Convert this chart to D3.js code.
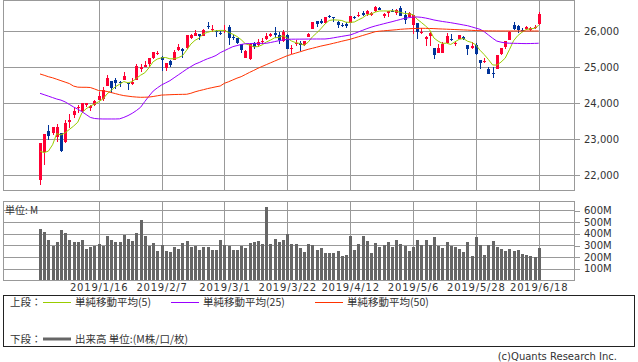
<!DOCTYPE html>
<html>
<head>
<meta charset="utf-8">
<script src="https://cdn.jsdelivr.net/npm/d3@7"></script>
<style>
  body { margin: 0; background: #fff; }
  svg { display: block; }
  text { font-family: "DejaVu Sans", sans-serif; fill: #333; }
  .jp { font-family: "Noto Sans CJK JP", sans-serif; }
</style>
</head>
<body>
<svg id="chart" width="638" height="362"></svg>
<script>
// trading days shown (one candle each)
var dates = [
  "2018/12/26","2018/12/27","2018/12/28","2018/12/31",
  "2019/1/2","2019/1/3","2019/1/4","2019/1/7","2019/1/8","2019/1/9","2019/1/10","2019/1/11",
  "2019/1/14","2019/1/15","2019/1/16","2019/1/17","2019/1/18","2019/1/22","2019/1/23","2019/1/24",
  "2019/1/25","2019/1/28","2019/1/29","2019/1/30","2019/1/31",
  "2019/2/1","2019/2/4","2019/2/5","2019/2/6","2019/2/7","2019/2/8","2019/2/11","2019/2/12",
  "2019/2/13","2019/2/14","2019/2/15","2019/2/19","2019/2/20","2019/2/21","2019/2/22","2019/2/25",
  "2019/2/26","2019/2/27","2019/2/28",
  "2019/3/1","2019/3/4","2019/3/5","2019/3/6","2019/3/7","2019/3/8","2019/3/11","2019/3/12",
  "2019/3/13","2019/3/14","2019/3/15","2019/3/18","2019/3/19","2019/3/20","2019/3/21","2019/3/22",
  "2019/3/25","2019/3/26","2019/3/27","2019/3/28","2019/3/29",
  "2019/4/1","2019/4/2","2019/4/3","2019/4/4","2019/4/5","2019/4/8","2019/4/9","2019/4/10",
  "2019/4/11","2019/4/12","2019/4/15","2019/4/16","2019/4/17","2019/4/18","2019/4/22","2019/4/23",
  "2019/4/24","2019/4/25","2019/4/26","2019/4/29","2019/4/30",
  "2019/5/1","2019/5/2","2019/5/3","2019/5/6","2019/5/7","2019/5/8","2019/5/9","2019/5/10",
  "2019/5/13","2019/5/14","2019/5/15","2019/5/16","2019/5/17","2019/5/20","2019/5/21","2019/5/22",
  "2019/5/23","2019/5/24","2019/5/28","2019/5/29","2019/5/30","2019/5/31",
  "2019/6/3","2019/6/4","2019/6/5","2019/6/6","2019/6/7","2019/6/10","2019/6/11","2019/6/12",
  "2019/6/13","2019/6/14","2019/6/17","2019/6/18"
];

var opens = [
  21857,22629,23213,23153,
  23058,23176,22894,23474,23680,23844,23788,23940,
  23850,23948,24100,24130,24490,24606,24650,24575,
  24634,24549,24526,24637,24949,
  24995,25062,25245,25371,25266,24970,25172,25191,
  25450,25490,25510,25800,25883,25905,25878,26126,
  26050,25987,25957,
  26019,26122,25830,25811,25636,25267,25240,25666,
  25611,25688,25760,25872,25938,25884,25701,25898,
  25490,25618,25675,25614,25835,
  26075,26275,26267,26221,26430,26381,26244,26165,
  26205,26230,26391,26433,26500,26469,26460,26532,
  26640,26400,26486,26561,26506,
  26640,26450,26405,26150,26228,25940,25770,25853,
  25531,25406,25410,25679,25776,25650,25770,25826,
  25614,25540,25600,25200,25154,24958,
  24823,24955,25385,25559,25765,26176,26151,26030,
  26050,26043,26080,26194
];

var highs = [
  22879,23139,23381,23333,
  23413,23176,23518,23687,23864,23952,24002,24006,
  23944,24090,24316,24443,24777,24606,24685,24602,
  24860,24558,24705,25076,25070,
  25174,25244,25418,25439,25314,25109,25189,25463,
  25626,25519,25883,25925,26018,25905,26052,26242,
  26154,26017,25999,
  26156,26156,25888,25811,25637,25469,25653,25694,
  25789,25805,25941,25946,26109,25977,26024,25914,
  25623,25763,25720,25724,25949,
  26258,26275,26333,26402,26440,26401,26289,26213,
  26236,26425,26422,26526,26565,26570,26536,26696,
  26658,26500,26565,26617,26608,
  26696,26550,26536,26453,26228,26080,25858,25969,
  25531,25642,25681,25942,25920,25731,25892,25851,
  25614,25695,25662,25200,25249,25001,
  25006,25339,25539,25726,26003,26236,26177,26072,
  26145,26109,26153,26538
];

var lows = [
  21713,22267,22981,23118,
  22928,22638,22894,23301,23581,23731,23713,23877,
  23783,23903,24084,24067,24490,24265,24393,24453,
  24634,24366,24507,24629,24868,
  24987,25008,25219,25325,24883,24884,25007,25191,
  25440,25250,25510,25779,25869,25748,25866,26062,
  25985,25846,25900,
  25939,25611,25760,25639,25390,25252,25208,25496,
  25554,25638,25739,25825,25818,25626,25683,25487,
  25356,25577,25450,25575,25835,
  26075,26106,26182,26192,26373,26246,26082,26110,
  26089,26230,26323,26394,26420,26420,26430,26532,
  26580,26369,26390,26543,26441,
  26430,26204,26405,25904,25780,25920,25583,25577,
  25223,25406,25406,25679,25730,25596,25770,25752,
  25323,25490,25340,24939,25112,24811,
  24681,24955,25322,25499,25746,26024,25957,25963,
  26033,25990,26061,26160
];

var closes = [
  22878,23139,23062,23327,
  23346,22686,23433,23531,23787,23879,24002,23996,
  23910,24066,24207,24370,24706,24404,24576,24553,
  24737,24528,24580,25015,25000,
  25064,25239,25412,25390,25170,25106,25053,25426,
  25543,25439,25883,25891,25954,25851,26032,26092,
  26058,25985,25916,
  26026,25820,25807,25673,25473,25450,25651,25555,
  25703,25710,25849,25914,25887,25746,25963,25502,
  25517,25658,25626,25717,25929,
  26258,26179,26218,26385,26425,26341,26151,26157,
  26143,26412,26385,26453,26450,26560,26511,26656,
  26597,26462,26543,26554,26593,
  26430,26308,26505,26438,25965,25967,25828,25942,
  25325,25532,25648,25863,25764,25680,25877,25777,
  25490,25586,25348,25126,25170,24815,
  24820,25332,25540,25721,25984,26063,26049,26005,
  26107,26090,26113,26466
];

// last four closes before the first candle (needed for the 5-day average)
var priorCloses = [23323, 22859, 22445, 21792];

// 25-day and 50-day simple moving averages
var ma25 = [
  24269,24230,24190,24150,24110,24080,24030,23960,23890,23830,
  23760,23680,23600,23570,23560,23556,23556,23556,23556,23560,
  23600,23650,23713,23790,23880,24040,24190,24330,24420,24500,
  24560,24620,24700,24780,24860,24940,25010,25080,25125,25180,
  25230,25270,25320,25397,25453,25510,25564,25595,25625,25647,
  25652,25655,25656,25657,25658,25680,25705,25730,25750,25769,
  25772,25773,25774,25775,25776,25777,25778,25778,25778,25790,
  25810,25830,25850,25870,25889,25930,25975,26020,26065,26105,
  26140,26170,26200,26230,26258,26290,26320,26353,26370,26385,
  26390,26380,26360,26335,26306,26285,26265,26248,26231,26210,
  26190,26168,26147,26115,26080,26047,25980,25890,25800,25720,
  25690,25670,25660,25658,25655,25652,25650,25652,25655,25660
];

var ma50 = [
  24806,24770,24730,24700,24660,24620,24580,24540,24470,24440,
  24436,24436,24430,24390,24345,24340,24320,24290,24260,24230,
  24205,24190,24175,24165,24158,24160,24165,24180,24200,24220,
  24225,24230,24235,24238,24240,24242,24270,24310,24342,24370,
  24400,24425,24450,24472,24547,24590,24640,24690,24731,24790,
  24850,24905,24963,25015,25065,25115,25165,25215,25265,25314,
  25350,25385,25420,25457,25492,25520,25550,25580,25605,25630,
  25658,25685,25715,25742,25769,25805,25840,25875,25910,25945,
  25981,25995,26005,26015,26025,26035,26047,26055,26062,26068,
  26072,26075,26073,26070,26066,26060,26055,26050,26045,26040,
  26035,26030,26025,26018,26012,26008,26005,26003,26002,26001,
  26000,26000,26000,26000,26000,26000,26000,26000,26000,26000
];

// volume in millions of shares
var volumes = [
  440,414,346,297,329,431,403,346,329,329,
  346,269,283,297,311,297,380,346,329,329,
  389,357,337,406,517,380,297,320,251,303,
  251,240,286,269,320,337,289,297,260,286,
  286,260,260,346,303,297,260,260,297,280,
  320,329,337,311,629,311,354,329,346,397,
  311,311,277,243,311,303,260,280,237,237,
  237,251,209,217,383,260,311,380,337,237,
  317,289,303,329,289,346,311,297,251,289,
  346,303,346,303,371,297,280,329,297,289,
  269,246,331,209,374,303,217,303,337,289,
  269,251,269,251,263,229,217,209,203,280
];

var tickDates = ["2019/1/16","2019/2/7","2019/3/1","2019/3/22","2019/4/12","2019/5/6","2019/5/28","2019/6/18"];
var priceTicks = [22000, 23000, 24000, 25000, 26000];
var volumeTicks = [100, 200, 300, 400, 500, 600];
var maLabels = ["単純移動平均(5)", "単純移動平均(25)", "単純移動平均(50)"];

// ---- 5-day average from the closes
var allCloses = priorCloses.concat(closes);
var ma5 = closes.map(function(c, i) { return d3.mean(allCloses.slice(i, i + 5)); });

var svg = d3.select("#chart");

var left = 3, right = 574;
var x = d3.scalePoint().domain(dates).range([40, 538.7]);
var y = d3.scaleLinear().domain([21583, 26861]).range([190, 0]);
var yVol = d3.scaleLinear().domain([0, 680]).range([280.3, 201]);

function px(v) { return Math.round(v) + 0.5; }

// ---- grid
var grid = svg.append("g").attr("stroke", "#999").attr("stroke-width", 1).attr("shape-rendering", "crispEdges");

priceTicks.forEach(function(t) {
  grid.append("line").attr("x1", left).attr("x2", right).attr("y1", px(y(t))).attr("y2", px(y(t)));
});
volumeTicks.forEach(function(t) {
  grid.append("line").attr("x1", left).attr("x2", right).attr("y1", px(yVol(t))).attr("y2", px(yVol(t)));
});
tickDates.forEach(function(d) {
  grid.append("line").attr("x1", px(x(d))).attr("x2", px(x(d))).attr("y1", 0).attr("y2", 190);
  grid.append("line").attr("x1", px(x(d))).attr("x2", px(x(d))).attr("y1", 201).attr("y2", 281);
});

// frames
grid.append("rect").attr("x", left + 0.5).attr("y", 0.5).attr("width", right - left).attr("height", 190).attr("fill", "none");
grid.append("rect").attr("x", left + 0.5).attr("y", 201.5).attr("width", right - left).attr("height", 79).attr("fill", "none");

// ---- candles
var candles = dates.map(function(d, i) {
  return { date: d, o: opens[i], h: highs[i], l: lows[i], c: closes[i] };
});
var upColor = "#ff0033", downColor = "#003399";

var cg = svg.append("g").attr("shape-rendering", "crispEdges");
cg.selectAll("line.wick").data(candles).enter().append("line")
  .attr("class", "wick")
  .attr("x1", function(d) { return px(x(d.date)); })
  .attr("x2", function(d) { return px(x(d.date)); })
  .attr("y1", function(d) { return y(d.h); })
  .attr("y2", function(d) { return y(d.l); })
  .attr("stroke", function(d) { return d.c >= d.o ? upColor : downColor; });

cg.selectAll("rect.body").data(candles).enter().append("rect")
  .attr("class", "body")
  .attr("x", function(d) { return Math.round(x(d.date)) - 1; })
  .attr("width", 3)
  .attr("y", function(d) { return Math.round(y(Math.max(d.o, d.c))); })
  .attr("height", function(d) { return Math.max(1, Math.round(Math.abs(y(d.o) - y(d.c)))); })
  .attr("fill", function(d) { return d.c >= d.o ? upColor : downColor; });

// ---- moving averages
var maColors = ["#99cc00", "#9900ff", "#ff3300"];
var line = d3.line()
  .x(function(d, i) { return x(dates[i]); })
  .y(function(d) { return y(d); });

[ma5, ma25, ma50].forEach(function(series, k) {
  svg.append("path")
    .datum(series)
    .attr("fill", "none")
    .attr("stroke", maColors[k])
    .attr("stroke-width", 1)
    .attr("d", line);
});

// ---- volume bars
svg.append("g").attr("shape-rendering", "crispEdges")
  .selectAll("rect").data(volumes).enter().append("rect")
  .attr("x", function(d, i) { return Math.round(x(dates[i])) - 1; })
  .attr("width", 3)
  .attr("y", function(d) { return yVol(d); })
  .attr("height", function(d) { return yVol(0) - yVol(d); })
  .attr("fill", "#666");

// ---- axes
var yAxis = d3.axisRight(y).tickValues(priceTicks).tickFormat(d3.format(",")).tickSize(6).tickPadding(4);
var gy = svg.append("g").attr("transform", "translate(" + right + ",0)").call(yAxis);

var vAxis = d3.axisRight(yVol).tickValues(volumeTicks).tickFormat(function(d) { return d + "M"; }).tickSize(6).tickPadding(4);
var gv = svg.append("g").attr("transform", "translate(" + right + ",0)").call(vAxis);

var xAxis = d3.axisBottom(x).tickValues(tickDates).tickSize(0).tickPadding(3);
var gx = svg.append("g").attr("transform", "translate(0,281)").call(xAxis);

[gy, gv, gx].forEach(function(g) {
  g.select(".domain").remove();
  g.selectAll(".tick line").attr("stroke", "#999").attr("shape-rendering", "crispEdges")
    .attr("transform", "translate(0,0.5)");
  g.selectAll("text").attr("font-family", "DejaVu Sans, sans-serif").attr("font-size", 10).attr("fill", "#333");
});
gx.selectAll("text").attr("letter-spacing", "0.8px");

svg.append("text").attr("class", "jp").attr("x", 5).attr("y", 214)
  .attr("font-size", 10).text("単位: M");

// ---- legend
var lg = svg.append("g");
lg.append("rect").attr("x", 3.5).attr("y", 295.5).attr("width", 631).attr("height", 51)
  .attr("fill", "none").attr("stroke", "#222").attr("shape-rendering", "crispEdges");

lg.append("text").attr("class", "jp").attr("x", 10).attr("y", 306).attr("font-size", 10.5).text("上段：");
var legendX = [43, 171, 315];
maLabels.forEach(function(lbl, k) {
  lg.append("line").attr("x1", legendX[k]).attr("x2", legendX[k] + 28)
    .attr("y1", 302.5).attr("y2", 302.5).attr("stroke", maColors[k]).attr("stroke-width", 1);
  lg.append("text").attr("class", "jp").attr("x", legendX[k] + 32).attr("y", 306)
    .attr("font-size", 10.5).text(lbl);
});

lg.append("text").attr("class", "jp").attr("x", 10).attr("y", 343).attr("font-size", 10.5).text("下段：");
lg.append("line").attr("x1", 43).attr("x2", 71).attr("y1", 339).attr("y2", 339)
  .attr("stroke", "#666").attr("stroke-width", 3);
lg.append("text").attr("class", "jp").attr("x", 75).attr("y", 343).attr("font-size", 10.5)
  .text("出来高 単位:(M株/口/枚)");

svg.append("text").attr("x", 617).attr("y", 360).attr("text-anchor", "end")
  .attr("font-size", 10).attr("fill", "#333").text("(c)Quants Research Inc.");
</script>
</body>
</html>
